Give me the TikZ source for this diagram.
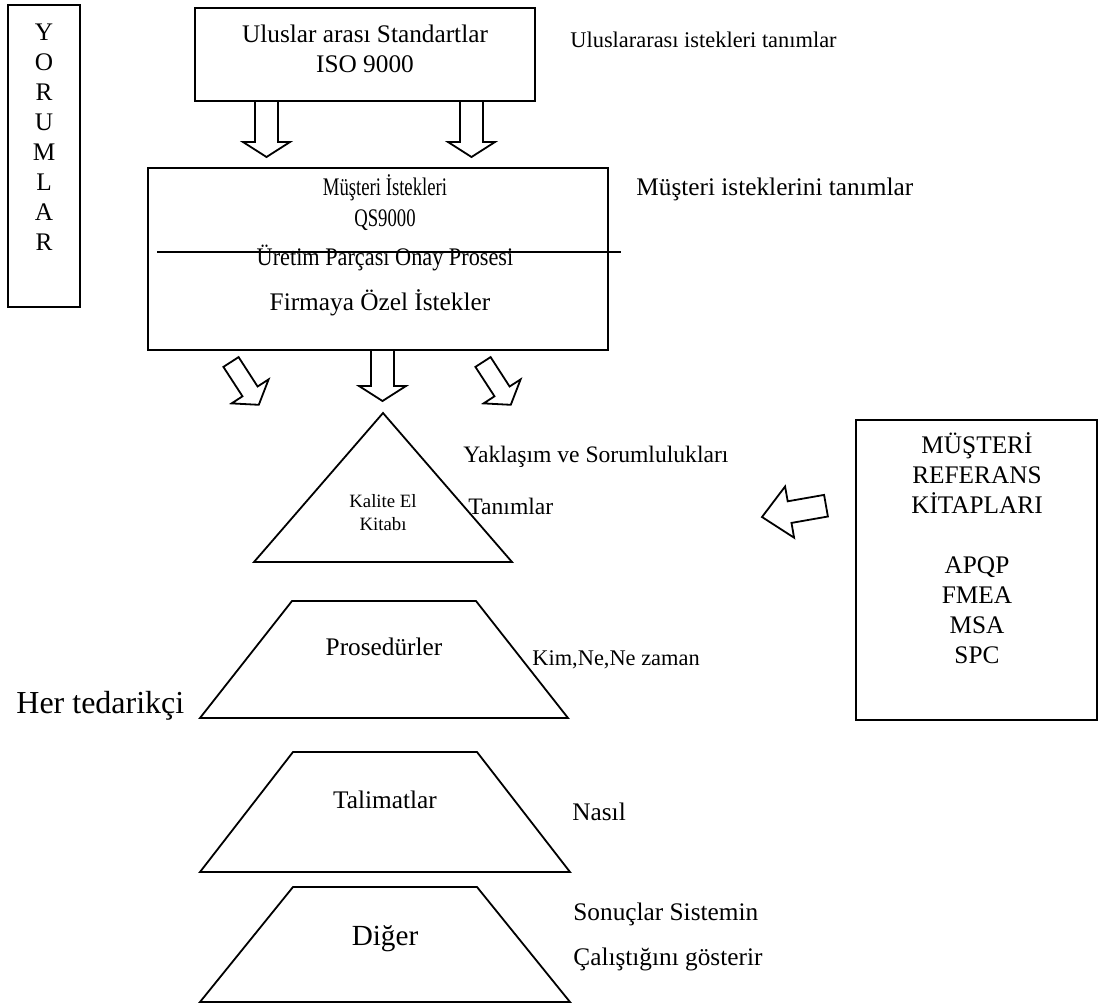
\documentclass[tikz,border=0pt]{standalone}
\usepackage{fontspec}
\setmainfont{Liberation Serif}
\newfontfamily\narrowserif[FakeStretch=0.74]{Liberation Serif}
\newfontfamily\semiserif[FakeStretch=0.88]{Liberation Serif}
\newcommand\dnarrow[3]{%
  \draw[blockarrow] (#1-11.5,#2) -- (#1-11.5,#3-15) -- (#1-23.5,#3-15) -- (#1,#3)
    -- (#1+23.5,#3-15) -- (#1+11.5,#3-15) -- (#1+11.5,#2);}
% slanted block arrow: tail centre at (#1,#2), pointing down and to the right
\newcommand\slarrow[2]{%
  \draw[blockarrow, shift={(#1,#2)}] (-7.6,4.9) -- (7.6,-4.9) -- (26.6,24.5)
    -- (37.6,17.4) -- (27.8,42.8) -- (0.6,41.4) -- (11.5,34.3) -- cycle;}
\begin{document}
\begin{tikzpicture}[x=0.5pt,y=-0.5pt,
  outline/.style={draw=black, line width=0.9pt, inner sep=0pt},
  blockarrow/.style={draw=black, line width=0.9pt, line join=miter},
  txt/.style={font=\fontsize{12.65}{15}\selectfont, inner sep=0pt},
  lbl/.style={txt, anchor=base west},
  slbl/.style={lbl, font=\fontsize{11.2}{13}\selectfont},
  ctr/.style={txt, anchor=base},
  small/.style={ctr, font=\fontsize{9.4}{11}\selectfont}]
\useasboundingbox (0,0) rectangle (1116,1008);

% vertical comment column
\node[outline, minimum width=36pt, minimum height=151pt] (yorum) at (44,156) {};
\foreach \ch [count=\i from 0] in {Y,O,R,U,M,L,A,R}
  \node[ctr] (yorum\i) at (44,40+30*\i) {\ch};

% international standards
\node[outline, minimum width=170pt, minimum height=46.5pt] (iso) at (365,54.5) {};
\node[ctr] (iso1) at (365,42) {Uluslar arası Standartlar};
\node[ctr] (iso2) at (365,72) {ISO 9000};
\node[slbl] (isonote) at (570,47) {Uluslararası istekleri tanımlar};
\dnarrow{266.5}{101}{157}
\dnarrow{471.5}{101}{157}

% customer requirements
\node[outline, minimum width=230pt, minimum height=91pt] (qs) at (378,259) {};
\node[ctr, font=\narrowserif\fontsize{12.65}{15}\selectfont] (qs1) at (385,195) {Müşteri İstekleri};
\node[ctr, font=\narrowserif\fontsize{12.65}{15}\selectfont] (qs2) at (385,226) {QS9000};
\draw[blockarrow] (157,252) -- (621,252);
\node[ctr, font=\semiserif\fontsize{12.65}{15}\selectfont] (qs3) at (385,265) {Üretim Parçası Onay Prosesi};
\node[ctr] (qs4) at (380,310) {Firmaya Özel İstekler};
\node[lbl] (qsnote) at (636,195) {Müşteri isteklerini tanımlar};

% arrows into the document pyramid
\dnarrow{382.5}{350}{401}
\slarrow{231}{362}
\slarrow{483}{362}

% quality manual
\draw[blockarrow] (383,413) -- (512,562) -- (254,562) -- cycle;
\node[small] (qm1) at (383,507) {Kalite El};
\node[small] (qm2) at (383,530) {Kitabı};
\node[lbl, font=\fontsize{11.8}{14}\selectfont] (qmnote1) at (463,462) {Yaklaşım ve Sorumlulukları};
\node[lbl, font=\fontsize{11.8}{14}\selectfont] (qmnote2) at (468,514) {Tanımlar};

% customer reference manuals
\node[outline, minimum width=120.5pt, minimum height=150pt] (ref) at (976.5,570) {};
\node[ctr] (ref1) at (977,453) {MÜŞTERİ};
\node[ctr] (ref2) at (977,483) {REFERANS};
\node[ctr] (ref3) at (977,513) {KİTAPLARI};
\node[ctr] (ref4) at (977,573) {APQP};
\node[ctr] (ref5) at (977,603) {FMEA};
\node[ctr] (ref6) at (977,633) {MSA};
\node[ctr] (ref7) at (977,663) {SPC};
\draw[blockarrow] (762,517) -- (785.1,486.5) -- (787.7,501.3) -- (824.1,494.9)
  -- (827.9,516.5) -- (791.5,522.9) -- (794.1,537.7) -- cycle;

% procedures
\draw[blockarrow] (292,601) -- (476,601) -- (568,718) -- (200,718) -- cycle;
\node[ctr] (proc) at (384,655) {Prosedürler};
\node[slbl] (procnote) at (532,665) {Kim,Ne,Ne zaman};
\node[anchor=base west, inner sep=0pt, font=\fontsize{16}{19}\selectfont] (supplier) at (16,713) {Her tedarikçi};

% instructions
\draw[blockarrow] (293,752) -- (477,752) -- (570,872) -- (200,872) -- cycle;
\node[ctr] (instr) at (385,808) {Talimatlar};
\node[lbl] (instrnote) at (572,820) {Nasıl};

% other records
\draw[blockarrow] (293,887) -- (477,887) -- (570,1002) -- (200,1002) -- cycle;
\node[anchor=base, inner sep=0pt, font=\fontsize{14.6}{17}\selectfont] (other) at (385,945) {Diğer};
\node[lbl] (othernote1) at (573,920) {Sonuçlar Sistemin};
\node[lbl] (othernote2) at (573,965) {Çalıştığını gösterir};
\end{tikzpicture}
\end{document}
